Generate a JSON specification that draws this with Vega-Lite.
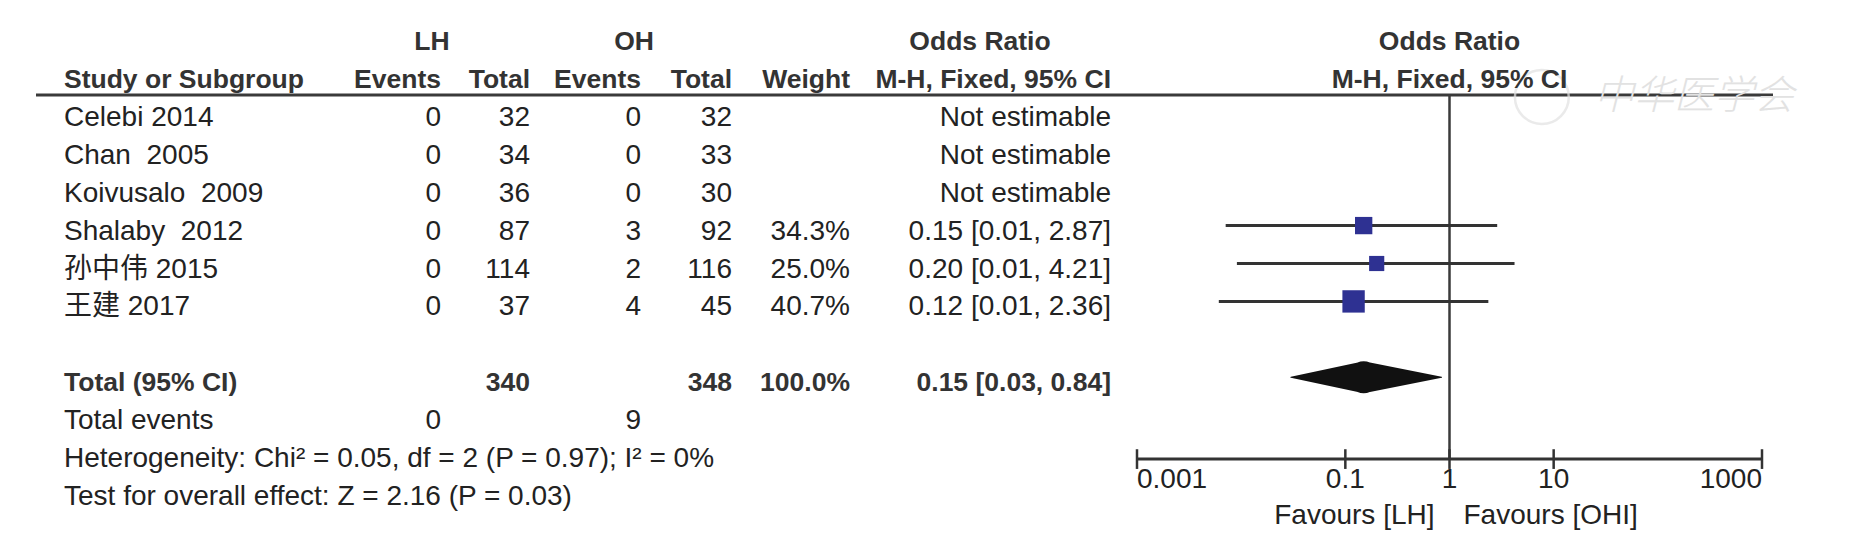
{
  "$schema": "https://vega.github.io/schema/vega-lite/v6.json",
  "width": 1853,
  "height": 545,
  "padding": 0,
  "autosize": {"type": "none"},
  "background": "#ffffff",
  "config": {
    "view": {"stroke": null},
    "text": {"font": "Liberation Sans, Noto Sans CJK SC, sans-serif", "fontSize": 28, "color": "#222222"}
  },
  "datasets": {
    "rows": [
      {"kind": "study", "study": "Celebi 2014", "lh_events": 0, "lh_total": 32, "oh_events": 0, "oh_total": 32, "ci": "Not estimable", "row": 0},
      {"kind": "study", "study": "Chan \u00a02005", "lh_events": 0, "lh_total": 34, "oh_events": 0, "oh_total": 33, "ci": "Not estimable", "row": 1},
      {"kind": "study", "study": "Koivusalo \u00a02009", "lh_events": 0, "lh_total": 36, "oh_events": 0, "oh_total": 30, "ci": "Not estimable", "row": 2},
      {"kind": "study", "study": "Shalaby \u00a02012", "lh_events": 0, "lh_total": 87, "oh_events": 3, "oh_total": 92, "weight": 0.343, "or": 0.15, "lo": 0.0071, "hi": 2.87, "ci": "0.15 [0.01, 2.87]", "row": 3},
      {"kind": "study", "study": "孙中伟 2015", "lh_events": 0, "lh_total": 114, "oh_events": 2, "oh_total": 116, "weight": 0.25, "or": 0.2, "lo": 0.0091, "hi": 4.21, "ci": "0.20 [0.01, 4.21]", "row": 4},
      {"kind": "study", "study": "王建 2017", "lh_events": 0, "lh_total": 37, "oh_events": 4, "oh_total": 45, "weight": 0.407, "or": 0.12, "lo": 0.0061, "hi": 2.36, "ci": "0.12 [0.01, 2.36]", "row": 5},
      {"kind": "total", "study": "Total (95% CI)", "lh_total": 340, "oh_total": 348, "weight": 1, "or": 0.15, "lo": 0.03, "hi": 0.84, "ci": "0.15 [0.03, 0.84]", "row": 7},
      {"kind": "events", "study": "Total events", "lh_events": 0, "oh_events": 9, "row": 8}
    ],
    "header": [
      {"text": "LH", "col": 2, "row": -2},
      {"text": "OH", "col": 5, "row": -2},
      {"text": "Odds Ratio", "col": 9, "row": -2},
      {"text": "Study or Subgroup", "col": 1, "row": -1},
      {"text": "Events", "col": 3, "row": -1},
      {"text": "Total", "col": 4, "row": -1},
      {"text": "Events", "col": 6, "row": -1},
      {"text": "Total", "col": 7, "row": -1},
      {"text": "Weight", "col": 8, "row": -1},
      {"text": "M-H, Fixed, 95% CI", "col": 10, "row": -1}
    ],
    "forest_header": [
      {"text": "Odds Ratio", "row": -2},
      {"text": "M-H, Fixed, 95% CI", "row": -1}
    ],
    "notes": [
      {"text": "Heterogeneity: Chi² = 0.05, df = 2 (P = 0.97); I² = 0%", "row": 9},
      {"text": "Test for overall effect: Z = 2.16 (P = 0.03)", "row": 10}
    ],
    "ticks": [{"v": 0.001}, {"v": 0.1}, {"v": 1}, {"v": 10}, {"v": 1000}]
  },
  "layer": [
    {
      "layer": [
        {
          "data": {"name": "header"},
          "transform": [{"filter": "datum.col == 1"}],
          "mark": {"type": "text", "align": "left", "fontWeight": "bold", "fontSize": 26.5, "color": "#333333"},
          "encoding": {
            "x": {"field": "col", "type": "quantitative", "scale": {"domain": [0,1,2,3,4,5,6,7,8,9,10,11], "range": [36,64,432,441,530,634,641,732,850,980,1111,1773], "nice": false, "zero": false}, "axis": null},
            "y": {"field": "row", "type": "quantitative", "scale": {"domain": [-2, 10], "range": [42, 497], "nice": false, "zero": false}, "axis": null},
            "text": {"field": "text"}
          }
        },
        {
          "data": {"name": "header"},
          "transform": [{"filter": "indexof([3,4,6,7,8,10], datum.col) >= 0"}],
          "mark": {"type": "text", "align": "right", "fontWeight": "bold", "fontSize": 26.5, "color": "#333333"},
          "encoding": {
            "x": {"field": "col", "type": "quantitative", "scale": {"domain": [0,1,2,3,4,5,6,7,8,9,10,11], "range": [36,64,432,441,530,634,641,732,850,980,1111,1773], "nice": false, "zero": false}, "axis": null},
            "y": {"field": "row", "type": "quantitative", "scale": {"domain": [-2, 10], "range": [42, 497], "nice": false, "zero": false}, "axis": null},
            "text": {"field": "text"}
          }
        },
        {
          "data": {"name": "header"},
          "transform": [{"filter": "indexof([2,5,9], datum.col) >= 0"}],
          "mark": {"type": "text", "align": "center", "fontWeight": "bold", "fontSize": 26.5, "color": "#333333"},
          "encoding": {
            "x": {"field": "col", "type": "quantitative", "scale": {"domain": [0,1,2,3,4,5,6,7,8,9,10,11], "range": [36,64,432,441,530,634,641,732,850,980,1111,1773], "nice": false, "zero": false}, "axis": null},
            "y": {"field": "row", "type": "quantitative", "scale": {"domain": [-2, 10], "range": [42, 497], "nice": false, "zero": false}, "axis": null},
            "text": {"field": "text"}
          }
        },
        {
          "data": {"values": [{}]},
          "mark": {"type": "rule", "stroke": "#3a3a3a", "strokeWidth": 3},
          "encoding": {
            "x": {"datum": 0, "type": "quantitative", "scale": {"domain": [0,1,2,3,4,5,6,7,8,9,10,11], "range": [36,64,432,441,530,634,641,732,850,980,1111,1773], "nice": false, "zero": false}, "axis": null},
            "x2": {"datum": 11},
            "y": {"datum": -0.6, "type": "quantitative", "scale": {"domain": [-2, 10], "range": [42, 497], "nice": false, "zero": false}, "axis": null}
          }
        },
        {
          "data": {"name": "rows"},
          "transform": [{"filter": "datum.kind != 'total'"}],
          "mark": {"type": "text", "align": "left"},
          "encoding": {
            "x": {"datum": 1, "type": "quantitative", "scale": {"domain": [0,1,2,3,4,5,6,7,8,9,10,11], "range": [36,64,432,441,530,634,641,732,850,980,1111,1773], "nice": false, "zero": false}, "axis": null},
            "y": {"field": "row", "type": "quantitative", "scale": {"domain": [-2, 10], "range": [42, 497], "nice": false, "zero": false}, "axis": null},
            "text": {"field": "study"}
          }
        },
        {
          "data": {"name": "rows"},
          "transform": [{"filter": "datum.kind != 'total' && isValid(datum.lh_events)"}],
          "mark": {"type": "text", "align": "right"},
          "encoding": {
            "x": {"datum": 3, "type": "quantitative", "scale": {"domain": [0,1,2,3,4,5,6,7,8,9,10,11], "range": [36,64,432,441,530,634,641,732,850,980,1111,1773], "nice": false, "zero": false}, "axis": null},
            "y": {"field": "row", "type": "quantitative", "scale": {"domain": [-2, 10], "range": [42, 497], "nice": false, "zero": false}, "axis": null},
            "text": {"field": "lh_events", "type": "nominal"}
          }
        },
        {
          "data": {"name": "rows"},
          "transform": [{"filter": "datum.kind == 'study'"}],
          "mark": {"type": "text", "align": "right"},
          "encoding": {
            "x": {"datum": 4, "type": "quantitative", "scale": {"domain": [0,1,2,3,4,5,6,7,8,9,10,11], "range": [36,64,432,441,530,634,641,732,850,980,1111,1773], "nice": false, "zero": false}, "axis": null},
            "y": {"field": "row", "type": "quantitative", "scale": {"domain": [-2, 10], "range": [42, 497], "nice": false, "zero": false}, "axis": null},
            "text": {"field": "lh_total", "type": "nominal"}
          }
        },
        {
          "data": {"name": "rows"},
          "transform": [{"filter": "datum.kind != 'total' && isValid(datum.oh_events)"}],
          "mark": {"type": "text", "align": "right"},
          "encoding": {
            "x": {"datum": 6, "type": "quantitative", "scale": {"domain": [0,1,2,3,4,5,6,7,8,9,10,11], "range": [36,64,432,441,530,634,641,732,850,980,1111,1773], "nice": false, "zero": false}, "axis": null},
            "y": {"field": "row", "type": "quantitative", "scale": {"domain": [-2, 10], "range": [42, 497], "nice": false, "zero": false}, "axis": null},
            "text": {"field": "oh_events", "type": "nominal"}
          }
        },
        {
          "data": {"name": "rows"},
          "transform": [{"filter": "datum.kind == 'study'"}],
          "mark": {"type": "text", "align": "right"},
          "encoding": {
            "x": {"datum": 7, "type": "quantitative", "scale": {"domain": [0,1,2,3,4,5,6,7,8,9,10,11], "range": [36,64,432,441,530,634,641,732,850,980,1111,1773], "nice": false, "zero": false}, "axis": null},
            "y": {"field": "row", "type": "quantitative", "scale": {"domain": [-2, 10], "range": [42, 497], "nice": false, "zero": false}, "axis": null},
            "text": {"field": "oh_total", "type": "nominal"}
          }
        },
        {
          "data": {"name": "rows"},
          "transform": [{"filter": "datum.kind == 'study' && isValid(datum.weight)"}],
          "mark": {"type": "text", "align": "right"},
          "encoding": {
            "x": {"datum": 8, "type": "quantitative", "scale": {"domain": [0,1,2,3,4,5,6,7,8,9,10,11], "range": [36,64,432,441,530,634,641,732,850,980,1111,1773], "nice": false, "zero": false}, "axis": null},
            "y": {"field": "row", "type": "quantitative", "scale": {"domain": [-2, 10], "range": [42, 497], "nice": false, "zero": false}, "axis": null},
            "text": {"field": "weight", "type": "quantitative", "format": ".1%"}
          }
        },
        {
          "data": {"name": "rows"},
          "transform": [{"filter": "datum.kind == 'study'"}],
          "mark": {"type": "text", "align": "right"},
          "encoding": {
            "x": {"datum": 10, "type": "quantitative", "scale": {"domain": [0,1,2,3,4,5,6,7,8,9,10,11], "range": [36,64,432,441,530,634,641,732,850,980,1111,1773], "nice": false, "zero": false}, "axis": null},
            "y": {"field": "row", "type": "quantitative", "scale": {"domain": [-2, 10], "range": [42, 497], "nice": false, "zero": false}, "axis": null},
            "text": {"field": "ci"}
          }
        },
        {
          "data": {"name": "rows"},
          "transform": [{"filter": "datum.kind == 'total'"}],
          "mark": {"type": "text", "align": "left", "fontWeight": "bold", "fontSize": 26.5, "color": "#333333"},
          "encoding": {
            "x": {"datum": 1, "type": "quantitative", "scale": {"domain": [0,1,2,3,4,5,6,7,8,9,10,11], "range": [36,64,432,441,530,634,641,732,850,980,1111,1773], "nice": false, "zero": false}, "axis": null},
            "y": {"field": "row", "type": "quantitative", "scale": {"domain": [-2, 10], "range": [42, 497], "nice": false, "zero": false}, "axis": null},
            "text": {"field": "study"}
          }
        },
        {
          "data": {"name": "rows"},
          "transform": [{"filter": "datum.kind == 'total'"}],
          "mark": {"type": "text", "align": "right", "fontWeight": "bold", "fontSize": 26.5, "color": "#333333"},
          "encoding": {
            "x": {"datum": 4, "type": "quantitative", "scale": {"domain": [0,1,2,3,4,5,6,7,8,9,10,11], "range": [36,64,432,441,530,634,641,732,850,980,1111,1773], "nice": false, "zero": false}, "axis": null},
            "y": {"field": "row", "type": "quantitative", "scale": {"domain": [-2, 10], "range": [42, 497], "nice": false, "zero": false}, "axis": null},
            "text": {"field": "lh_total", "type": "nominal"}
          }
        },
        {
          "data": {"name": "rows"},
          "transform": [{"filter": "datum.kind == 'total'"}],
          "mark": {"type": "text", "align": "right", "fontWeight": "bold", "fontSize": 26.5, "color": "#333333"},
          "encoding": {
            "x": {"datum": 7, "type": "quantitative", "scale": {"domain": [0,1,2,3,4,5,6,7,8,9,10,11], "range": [36,64,432,441,530,634,641,732,850,980,1111,1773], "nice": false, "zero": false}, "axis": null},
            "y": {"field": "row", "type": "quantitative", "scale": {"domain": [-2, 10], "range": [42, 497], "nice": false, "zero": false}, "axis": null},
            "text": {"field": "oh_total", "type": "nominal"}
          }
        },
        {
          "data": {"name": "rows"},
          "transform": [{"filter": "datum.kind == 'total'"}],
          "mark": {"type": "text", "align": "right", "fontWeight": "bold", "fontSize": 26.5, "color": "#333333"},
          "encoding": {
            "x": {"datum": 8, "type": "quantitative", "scale": {"domain": [0,1,2,3,4,5,6,7,8,9,10,11], "range": [36,64,432,441,530,634,641,732,850,980,1111,1773], "nice": false, "zero": false}, "axis": null},
            "y": {"field": "row", "type": "quantitative", "scale": {"domain": [-2, 10], "range": [42, 497], "nice": false, "zero": false}, "axis": null},
            "text": {"field": "weight", "type": "quantitative", "format": ".1%"}
          }
        },
        {
          "data": {"name": "rows"},
          "transform": [{"filter": "datum.kind == 'total'"}],
          "mark": {"type": "text", "align": "right", "fontWeight": "bold", "fontSize": 26.5, "color": "#333333"},
          "encoding": {
            "x": {"datum": 10, "type": "quantitative", "scale": {"domain": [0,1,2,3,4,5,6,7,8,9,10,11], "range": [36,64,432,441,530,634,641,732,850,980,1111,1773], "nice": false, "zero": false}, "axis": null},
            "y": {"field": "row", "type": "quantitative", "scale": {"domain": [-2, 10], "range": [42, 497], "nice": false, "zero": false}, "axis": null},
            "text": {"field": "ci"}
          }
        },
        {
          "data": {"name": "notes"},
          "mark": {"type": "text", "align": "left"},
          "encoding": {
            "x": {"datum": 1, "type": "quantitative", "scale": {"domain": [0,1,2,3,4,5,6,7,8,9,10,11], "range": [36,64,432,441,530,634,641,732,850,980,1111,1773], "nice": false, "zero": false}, "axis": null},
            "y": {"field": "row", "type": "quantitative", "scale": {"domain": [-2, 10], "range": [42, 497], "nice": false, "zero": false}, "axis": null},
            "text": {"field": "text"}
          }
        }
      ]
    },
    {
      "layer": [
        {
          "data": {"values": [{"mark": "seal"}]},
          "mark": {"type": "point", "shape": "circle", "filled": false, "stroke": "#e2e2e2", "strokeWidth": 2.5, "size": 2900},
          "encoding": {
            "x": {"datum": 7.7, "type": "quantitative", "scale": {"type": "log", "domain": [0.001, 1000], "range": [1137, 1762], "nice": false}, "axis": null},
            "y": {"datum": -0.55, "type": "quantitative", "scale": {"domain": [-2, 10], "range": [42, 497], "nice": false, "zero": false}, "axis": null}
          }
        },
        {
          "data": {"values": [{"text": "中华医学会"}]},
          "mark": {"type": "text", "align": "center", "font": "Noto Sans CJK SC", "fontSize": 40, "fontStyle": "italic", "fontWeight": 300, "color": "#e2e2e2"},
          "encoding": {
            "x": {"datum": 223, "type": "quantitative", "scale": {"type": "log", "domain": [0.001, 1000], "range": [1137, 1762], "nice": false}, "axis": null},
            "y": {"datum": -0.55, "type": "quantitative", "scale": {"domain": [-2, 10], "range": [42, 497], "nice": false, "zero": false}, "axis": null},
            "text": {"field": "text"}
          }
        },
        {
          "data": {"values": [{}]},
          "mark": {"type": "rule", "stroke": "#3a3a3a", "strokeWidth": 2.5},
          "encoding": {
            "x": {"datum": 1, "type": "quantitative", "scale": {"type": "log", "domain": [0.001, 1000], "range": [1137, 1762], "nice": false}, "axis": null},
            "y": {"datum": -0.6, "type": "quantitative", "scale": {"domain": [-2, 10], "range": [42, 497], "nice": false, "zero": false}, "axis": null},
            "y2": {"datum": 9}
          }
        },
        {
          "data": {"name": "rows"},
          "transform": [{"filter": "datum.kind == 'study' && isValid(datum.or)"}],
          "mark": {"type": "rule", "stroke": "#333333", "strokeWidth": 3, "yOffset": -6},
          "encoding": {
            "x": {"field": "lo", "type": "quantitative", "scale": {"type": "log", "domain": [0.001, 1000], "range": [1137, 1762], "nice": false}, "axis": null},
            "x2": {"field": "hi"},
            "y": {"field": "row", "type": "quantitative", "scale": {"domain": [-2, 10], "range": [42, 497], "nice": false, "zero": false}, "axis": null}
          }
        },
        {
          "data": {"name": "rows"},
          "transform": [{"filter": "datum.kind == 'study' && isValid(datum.or)"}],
          "mark": {"type": "point", "shape": "square", "filled": true, "color": "#2e3192", "opacity": 1, "yOffset": -6},
          "encoding": {
            "x": {"field": "or", "type": "quantitative", "scale": {"type": "log", "domain": [0.001, 1000], "range": [1137, 1762], "nice": false}, "axis": null},
            "y": {"field": "row", "type": "quantitative", "scale": {"domain": [-2, 10], "range": [42, 497], "nice": false, "zero": false}, "axis": null},
            "size": {"field": "weight", "type": "quantitative", "scale": {"domain": [0.25, 0.343, 0.407], "range": [230, 300, 500], "zero": false, "nice": false}, "legend": null}
          }
        },
        {
          "data": {"name": "rows"},
          "transform": [
            {"filter": "datum.kind == 'total'"},
            {"fold": ["lo", "or", "hi"], "as": ["part", "val"]},
            {"window": [{"op": "row_number", "as": "vertex"}], "sort": [{"field": "val", "order": "ascending"}]}
          ],
          "mark": {"type": "trail", "color": "#111111", "yOffset": -6},
          "encoding": {
            "x": {"field": "val", "type": "quantitative", "scale": {"type": "log", "domain": [0.001, 1000], "range": [1137, 1762], "nice": false}, "axis": null},
            "y": {"field": "row", "type": "quantitative", "scale": {"domain": [-2, 10], "range": [42, 497], "nice": false, "zero": false}, "axis": null},
            "size": {"field": "vertex", "type": "quantitative", "scale": {"domain": [1, 2, 3], "range": [0, 32, 0], "zero": false, "nice": false}, "legend": null},
            "order": {"field": "val", "type": "quantitative"}
          }
        },
        {
          "data": {"values": [{}]},
          "mark": {"type": "rule", "stroke": "#333333", "strokeWidth": 3},
          "encoding": {
            "x": {"datum": 0.001, "type": "quantitative", "scale": {"type": "log", "domain": [0.001, 1000], "range": [1137, 1762], "nice": false}, "axis": null},
            "x2": {"datum": 1000},
            "y": {"datum": 9, "type": "quantitative", "scale": {"domain": [-2, 10], "range": [42, 497], "nice": false, "zero": false}, "axis": null}
          }
        },
        {
          "data": {"name": "ticks"},
          "mark": {"type": "rule", "stroke": "#333333", "strokeWidth": 2.5},
          "encoding": {
            "x": {"field": "v", "type": "quantitative", "scale": {"type": "log", "domain": [0.001, 1000], "range": [1137, 1762], "nice": false}, "axis": null},
            "y": {"datum": 8.74, "type": "quantitative", "scale": {"domain": [-2, 10], "range": [42, 497], "nice": false, "zero": false}, "axis": null},
            "y2": {"datum": 9.26}
          }
        },
        {
          "data": {"name": "ticks"},
          "transform": [{"filter": "datum.v == 0.001"}],
          "mark": {"type": "text", "align": "left"},
          "encoding": {
            "x": {"field": "v", "type": "quantitative", "scale": {"type": "log", "domain": [0.001, 1000], "range": [1137, 1762], "nice": false}, "axis": null},
            "y": {"datum": 9.56, "type": "quantitative", "scale": {"domain": [-2, 10], "range": [42, 497], "nice": false, "zero": false}, "axis": null},
            "text": {"field": "v", "type": "nominal"}
          }
        },
        {
          "data": {"name": "ticks"},
          "transform": [{"filter": "datum.v == 1000"}],
          "mark": {"type": "text", "align": "right"},
          "encoding": {
            "x": {"field": "v", "type": "quantitative", "scale": {"type": "log", "domain": [0.001, 1000], "range": [1137, 1762], "nice": false}, "axis": null},
            "y": {"datum": 9.56, "type": "quantitative", "scale": {"domain": [-2, 10], "range": [42, 497], "nice": false, "zero": false}, "axis": null},
            "text": {"field": "v", "type": "nominal"}
          }
        },
        {
          "data": {"name": "ticks"},
          "transform": [{"filter": "datum.v > 0.001 && datum.v < 1000"}],
          "mark": {"type": "text", "align": "center"},
          "encoding": {
            "x": {"field": "v", "type": "quantitative", "scale": {"type": "log", "domain": [0.001, 1000], "range": [1137, 1762], "nice": false}, "axis": null},
            "y": {"datum": 9.56, "type": "quantitative", "scale": {"domain": [-2, 10], "range": [42, 497], "nice": false, "zero": false}, "axis": null},
            "text": {"field": "v", "type": "nominal"}
          }
        },
        {
          "data": {"name": "forest_header"},
          "mark": {"type": "text", "align": "center", "fontWeight": "bold", "fontSize": 26.5, "color": "#333333"},
          "encoding": {
            "x": {"datum": 1, "type": "quantitative", "scale": {"type": "log", "domain": [0.001, 1000], "range": [1137, 1762], "nice": false}, "axis": null},
            "y": {"field": "row", "type": "quantitative", "scale": {"domain": [-2, 10], "range": [42, 497], "nice": false, "zero": false}, "axis": null},
            "text": {"field": "text"}
          }
        },
        {
          "data": {"values": [{"text": "Favours [LH]"}]},
          "mark": {"type": "text", "align": "right", "dx": -15},
          "encoding": {
            "x": {"datum": 1, "type": "quantitative", "scale": {"type": "log", "domain": [0.001, 1000], "range": [1137, 1762], "nice": false}, "axis": null},
            "y": {"datum": 10.5, "type": "quantitative", "scale": {"domain": [-2, 10], "range": [42, 497], "nice": false, "zero": false}, "axis": null},
            "text": {"field": "text"}
          }
        },
        {
          "data": {"values": [{"text": "Favours [OHI]"}]},
          "mark": {"type": "text", "align": "left", "dx": 14},
          "encoding": {
            "x": {"datum": 1, "type": "quantitative", "scale": {"type": "log", "domain": [0.001, 1000], "range": [1137, 1762], "nice": false}, "axis": null},
            "y": {"datum": 10.5, "type": "quantitative", "scale": {"domain": [-2, 10], "range": [42, 497], "nice": false, "zero": false}, "axis": null},
            "text": {"field": "text"}
          }
        }
      ],
      "resolve": {"scale": {"size": "independent"}}
    }
  ],
  "resolve": {"scale": {"x": "independent"}}
}
